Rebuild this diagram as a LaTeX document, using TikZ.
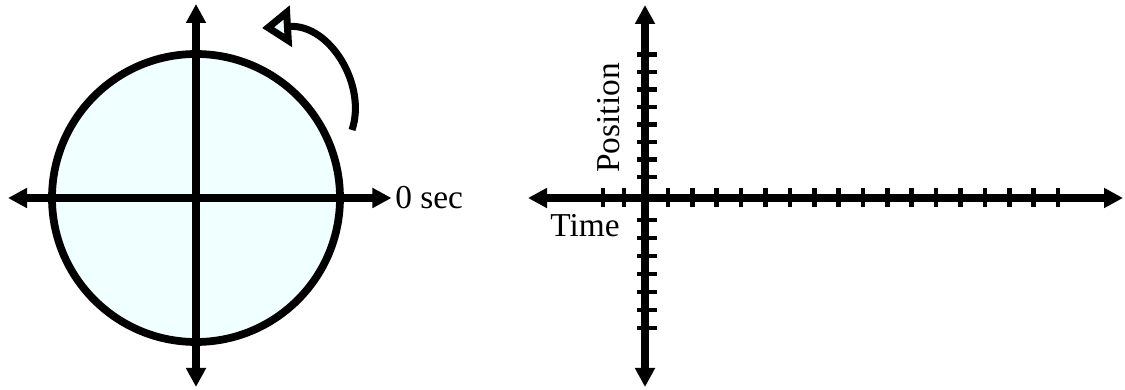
\documentclass[tikz,border=0pt]{standalone}
\definecolor{dialCyan}{RGB}{240,255,255}
\usepackage{fontspec}
\setmainfont{Liberation Serif}
\usepackage{tikz}
\usetikzlibrary{arrows.meta}

\begin{document}
\begin{tikzpicture}[every node/.style={font=\fontsize{19}{21}\selectfont, inner sep=0pt},
    axis/.style={line width=4pt, {Triangle[length=0.38cm,width=0.38cm]}-{Triangle[length=0.38cm,width=0.38cm]}},
    tickmark/.style={line width=2.6pt}]
  \useasboundingbox (0,0) rectangle (22.5,7.8);
  % dial
  \coordinate (dialC) at (3.92,3.84);
  \draw[line width=4.4pt, fill=dialCyan] (dialC) circle (2.88);
  \coordinate (dialW) at (0.16,3.84);
  \coordinate (dialN) at (3.92,7.72);
  \coordinate (dialS) at (3.92,0.06);
  \node[anchor=west] (zero) at (7.9,3.84) {0 sec};
  \draw[axis] (dialW) -- ([xshift=-2pt]zero.west);
  \draw[axis] (dialS) -- (dialN);
  \coordinate (spinA) at (7.04,5.2);
  \coordinate (spinB) at (5.24,7.24);
  \draw[line width=4pt, -{Triangle[length=0.58cm,width=0.8cm,fill=dialCyan]}]
    (spinA) .. controls (7.34,6.1) and (6.6,7.32) .. (spinB);
  % graph
  \coordinate (timeW) at (10.56,3.84);
  \coordinate (timeE) at (22.46,3.84);
  \coordinate (posN) at (12.9,7.7);
  \coordinate (posS) at (12.9,0.06);
  \draw[axis] (timeW) -- (timeE);
  \draw[axis] (posS) -- (posN);
  \foreach \x in {12.06,12.48}
    \draw[tickmark] (\x,3.66) -- ++(0,0.38);
  \foreach \k in {0,...,16}
    \draw[tickmark] ({13.36+0.4875*\k},3.66) -- ++(0,0.38);
  \foreach \k in {0,...,7}
    \draw[tickmark] (12.74,{4.26+0.35*\k}) -- ++(0.4,0);
  \foreach \k in {0,...,6}
    \draw[tickmark] (12.74,{3.4-0.36*\k}) -- ++(0.4,0);
  \node[rotate=90] (position) at (12.18,5.44) {Position};
  \node (time) at (11.7,3.28) {Time};
\end{tikzpicture}
\end{document}
